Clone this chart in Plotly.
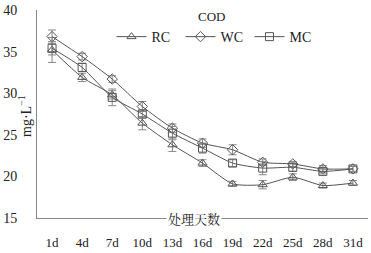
import plotly.graph_objects as go

days = ["1d", "4d", "7d", "10d", "13d", "16d", "19d", "22d", "25d", "28d", "31d"]
rc = [35.2, 31.9, 29.8, 26.4, 23.8, 21.6, 19.1, 19.0, 19.9, 18.9, 19.2]
wc = [36.8, 34.4, 31.7, 28.4, 25.8, 24.0, 23.2, 21.7, 21.5, 20.9, 20.9]
mc = [35.4, 33.1, 29.5, 27.5, 25.2, 23.4, 21.6, 21.0, 21.1, 20.6, 20.9]
rc_err = [1.5, 0.5, 0.5, 0.8, 0.8, 0.4, 0.3, 0.5, 0.4, 0.3, 0.3]
wc_err = [0.8, 0.4, 0.4, 0.6, 0.5, 0.5, 0.6, 0.4, 0.3, 0.4, 0.3]
mc_err = [0.8, 0.5, 1.0, 0.5, 0.8, 0.6, 0.4, 0.8, 0.5, 0.3, 0.3]
series_names = ["RC", "WC", "MC"]

FONT = "Liberation Serif, Times New Roman, serif"
GRAY = "#555555"

fig = go.Figure()
for name, vals, errs, sym in zip(series_names, [rc, wc, mc], [rc_err, wc_err, mc_err],
                                 ["triangle-up-open", "diamond-open", "square-open"]):
    fig.add_trace(go.Scatter(
        x=days, y=vals, name=name, mode="lines+markers",
        line=dict(color=GRAY, width=1, shape="spline", smoothing=0.6),
        marker=dict(symbol=sym, size=8, color=GRAY, line=dict(width=1, color=GRAY)),
        error_y=dict(type="data", array=errs, visible=True, color="#888888", thickness=1, width=4),
    ))

fig.update_layout(
    width=371, height=253,
    margin=dict(l=33, r=3, t=10, b=35),
    paper_bgcolor="white", plot_bgcolor="white",
    font=dict(family=FONT, size=13, color="#222222"),
    showlegend=True,
    legend=dict(orientation="h", x=0.225, y=0.87, xanchor="left", yanchor="middle",
                font=dict(family=FONT, size=14, color="#222222"),
                bgcolor="rgba(0,0,0,0)", itemwidth=30, entrywidth=24, entrywidthmode="pixels"),
    xaxis=dict(range=[-0.5, len(days) - 0.5], showline=True, linecolor="#888888", linewidth=1,
               showgrid=False, zeroline=False,
               ticks="", ticklabelstandoff=12, tickfont=dict(family=FONT, size=13)),
    yaxis=dict(range=[15, 40], dtick=5, showline=True, linecolor="#888888", linewidth=1,
               showgrid=False, zeroline=False, ticks="", ticklabelstandoff=16,
               tickfont=dict(family=FONT, size=14)),
    annotations=[
        dict(text="COD", xref="paper", yref="paper", x=(210 - 33) / 335, y=(218 - 16) / 208,
             showarrow=False, xanchor="center", yanchor="middle", font=dict(family=FONT, size=13)),
        dict(text="处理天数", xref="paper", yref="paper", x=(192 - 33) / 335, y=0,
             showarrow=False, xanchor="center", yanchor="middle", bgcolor="white",
             font=dict(family="Noto Serif CJK SC, Noto Sans CJK SC", size=13)),
        dict(text="mg·L<sup>−1</sup>", xref="paper", yref="paper", x=0, xshift=-12,
             y=(218 - 116) / 208, textangle=-90, showarrow=False,
             xanchor="center", yanchor="middle", font=dict(family=FONT, size=14)),
    ],
)

fig.write_html("out.html", config={"displayModeBar": False},
               post_script="document.body.style.margin='0';document.body.style.padding='0';")
